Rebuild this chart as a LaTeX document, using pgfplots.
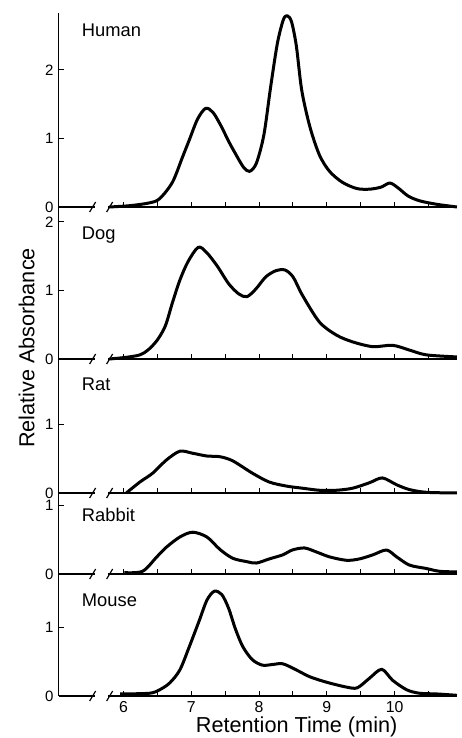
\documentclass[border=0pt]{standalone}
\usepackage{pgfplots}
\pgfplotsset{compat=1.18}
\usepackage{fontspec}
\setmainfont{Liberation Sans}
\begin{document}
\pgfplotsset{
  panel/.style={
    x=40.65pt, y=41.1pt,
    xmin=5.041, xmax=10.915, ymin=0,
    anchor=south west,
    axis y line*=left, axis x line*=bottom,
    axis line style={line width=0.7pt},
    tick align=inside,
    major tick length=3pt, minor tick length=3pt,
    tick style={line width=0.6pt, black},
    xtick={6,7,8,9,10}, minor xtick={6.5,7.5,8.5,9.5,10.5},
    xticklabels={},
    ytick={0,1,2},
    yticklabel style={font=\fontsize{9}{10}\selectfont, inner sep=0.4pt, xshift=-2.5pt},
    xticklabel style={font=\fontsize{9.5}{11}\selectfont},
    /pgf/number format/assume math mode=true,
    clip=false,
  },
  curve/.style={black, line width=1.8pt, smooth, tension=0.5, line join=round},
}
\begin{tikzpicture}
\useasboundingbox (0,0) rectangle (274.2pt,442.8pt);

% Human
\begin{axis}[panel, at={(32.4pt,318.6pt)}, ymax=2.83]
\addplot[curve] coordinates {
(5.79,0) (6.10,0.02) (6.38,0.06) (6.53,0.12) (6.72,0.36) (6.87,0.73) (6.97,0.98)
(7.09,1.28) (7.21,1.44) (7.32,1.38) (7.44,1.18) (7.55,0.96) (7.65,0.78)
(7.77,0.58) (7.86,0.52) (7.96,0.64) (8.07,1.05) (8.17,1.75) (8.27,2.39) (8.36,2.74) (8.42,2.79) (8.48,2.70)
(8.55,2.35) (8.63,1.70) (8.75,1.17) (8.89,0.76) (9.04,0.52) (9.23,0.36)
(9.44,0.27) (9.63,0.26) (9.80,0.29) (9.93,0.35) (10.05,0.28) (10.20,0.16) (10.37,0.09) (10.62,0.04) (10.92,0.0)
};
\end{axis}

% Dog
\begin{axis}[panel, at={(32.4pt,227.4pt)}, ymax=2.22]
\addplot[curve] coordinates {
(5.79,0) (6.24,0.06) (6.46,0.23) (6.61,0.47) (6.72,0.82) (6.83,1.15) (6.95,1.42)
(7.10,1.63) (7.22,1.56) (7.38,1.36) (7.55,1.10) (7.70,0.95) (7.82,0.91) (7.95,1.02)
(8.10,1.20) (8.25,1.29) (8.38,1.30) (8.50,1.20) (8.64,0.93) (8.89,0.54) (9.14,0.35)
(9.38,0.25) (9.68,0.18) (9.97,0.20) (10.22,0.13) (10.47,0.06) (10.92,0.03)
};
\end{axis}

% Rat
\begin{axis}[panel, at={(32.4pt,147pt)}, ymax=1.96, ytick={0,1}]
\addplot[curve] coordinates {
(6.04,0) (6.24,0.16) (6.43,0.29) (6.63,0.48) (6.83,0.61) (7.02,0.58) (7.23,0.54)
(7.42,0.53) (7.61,0.47) (7.90,0.29) (8.15,0.16) (8.41,0.10) (8.64,0.07)
(8.89,0.04) (9.14,0.04) (9.38,0.07) (9.63,0.15) (9.82,0.22) (10.03,0.12)
(10.22,0.05) (10.47,0.01) (10.92,0)
};
\end{axis}

% Rabbit
\begin{axis}[panel, at={(32.4pt,98.4pt)}, ymax=1.18, ytick={0,1}]
\addplot[curve] coordinates {
(6.01,0.02) (6.28,0.04) (6.49,0.25) (6.63,0.39) (6.83,0.54) (7.02,0.61)
(7.23,0.54) (7.42,0.36) (7.61,0.23) (7.82,0.18) (7.96,0.16) (8.15,0.22)
(8.35,0.28) (8.49,0.35) (8.67,0.38) (8.85,0.32) (9.04,0.25) (9.29,0.20)
(9.48,0.22) (9.68,0.28) (9.88,0.35) (10.03,0.25) (10.22,0.13) (10.47,0.08)
(10.66,0.04) (10.92,0.03)
};
\end{axis}

% Mouse
\begin{axis}[panel, at={(32.4pt,25.2pt)}, ymax=1.78, ytick={0,1}, xticklabels={6,7,8,9,10}]
\addplot[curve] coordinates {
(5.95,0.03) (6.38,0.04) (6.53,0.09) (6.68,0.19) (6.83,0.38) (6.97,0.72)
(7.12,1.11) (7.23,1.40) (7.34,1.53) (7.45,1.48) (7.55,1.28) (7.65,0.98)
(7.76,0.72) (7.90,0.53) (8.05,0.45) (8.20,0.46) (8.35,0.47) (8.55,0.38) (8.75,0.28)
(9.00,0.20) (9.29,0.13) (9.45,0.12) (9.63,0.26) (9.81,0.39) (9.97,0.23)
(10.18,0.09) (10.37,0.04) (10.62,0.03) (10.92,0.01)
};
\end{axis}

\begin{scope}[x=0.6pt, y=0.6pt]
% axis breaks
\foreach \Y in {531,379,245,164,42}{
  \fill[white] (90,\Y-2.5) rectangle (103,\Y+2.5);
  \draw[line width=0.7pt] (85,\Y-5) -- (91,\Y+5);
  \draw[line width=0.7pt] (102,\Y-5) -- (108,\Y+5);
}
% panel names
\begin{scope}[every node/.style={anchor=west, font=\fontsize{11}{13}\selectfont, inner sep=0pt}]
\node at (77,708) {Human};
\node at (77,503) {Dog};
\node at (77,354) {Rat};
\node at (77,223) {Rabbit};
\node at (77,138) {Mouse};
\end{scope}
\node[rotate=90, font=\fontsize{13}{15}\selectfont] at (22,390) {Relative Absorbance};
\node[font=\fontsize{13}{15}\selectfont] at (292,11) {Retention Time (min)};
\end{scope}
\end{tikzpicture}
\end{document}
